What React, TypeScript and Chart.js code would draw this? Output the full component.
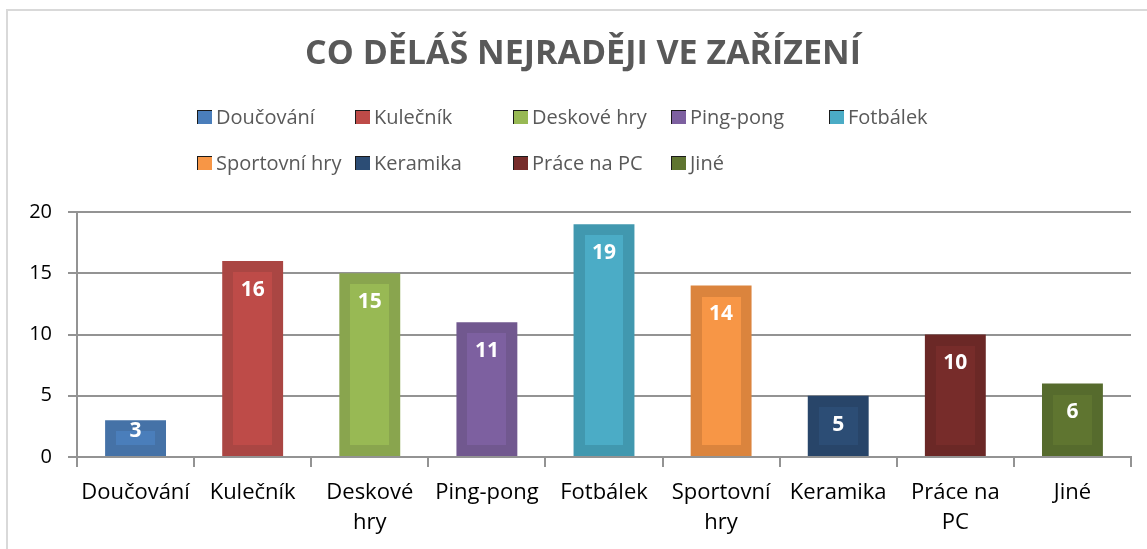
import React, { useEffect, useRef } from "react";
import { Chart, registerables } from "chart.js";

Chart.register(...registerables);

const TITLE = "CO DĚLÁŠ NEJRADĚJI VE ZAŘÍZENÍ";
const categories = ["Doučování", "Kulečník", "Deskové hry", "Ping-pong", "Fotbálek", "Sportovní hry", "Keramika", "Práce na PC", "Jiné"];
const axisLabels: (string | string[])[] = ["Doučování", "Kulečník", ["Deskové", "hry"], "Ping-pong", "Fotbálek", ["Sportovní", "hry"], "Keramika", ["Práce na", "PC"], "Jiné"];
const values = [3, 16, 15, 11, 19, 14, 5, 10, 6];
const fillColors = ["#4A7EBB", "#BE4B48", "#98B954", "#7D60A0", "#4BACC6", "#F79646", "#2C4D75", "#772C2A", "#5F7530"];
const edgeColors = ["#4572A7", "#AA4643", "#89A54E", "#71588F", "#4198AF", "#DB843D", "#284569", "#6B2826", "#566B2D"];
const yMin = 0;
const yMax = 20;
const yStep = 5;

const FONT = "'Open Sans', 'DejaVu Sans', sans-serif";
const EDGE = 11;

const decorPlugin = {
  id: "decor",
  beforeDraw(chart: any) {
    const { ctx, width, height } = chart;
    ctx.save();
    ctx.fillStyle = "#ffffff";
    ctx.fillRect(0, 0, width, height);
    ctx.strokeStyle = "#d9d9d9";
    ctx.lineWidth = 2;
    ctx.beginPath();
    ctx.moveTo(7, height);
    ctx.lineTo(7, 10);
    ctx.lineTo(width, 10);
    ctx.stroke();

    // title
    ctx.fillStyle = "#595959";
    ctx.font = `bold 34px ${FONT}`;
    ctx.textAlign = "center";
    ctx.textBaseline = "middle";
    ctx.fillText(TITLE, 583, 54);

    // legend
    ctx.font = `20px ${FONT}`;
    ctx.textAlign = "left";
    const perRow = 5;
    categories.forEach((c, i) => {
      const col = i % perRow;
      const row = Math.floor(i / perRow);
      const bx = 197 + col * 158;
      const cy = 117 + row * 46;
      ctx.fillStyle = fillColors[i];
      ctx.fillRect(bx, cy - 7, 15, 14);
      ctx.fillStyle = "#1a1a1a";
      ctx.fillRect(bx, cy - 7, 15, 1);
      ctx.fillRect(bx, cy - 7, 1, 14);
      ctx.fillStyle = "#595959";
      ctx.fillText(c, bx + 19, cy + 1);
    });
    ctx.restore();
  },
  afterDatasetsDraw(chart: any) {
    const { ctx } = chart;
    const meta = chart.getDatasetMeta(0);
    ctx.save();
    // inner lighter fill of each bar
    meta.data.forEach((bar: any, i: number) => {
      const left = Math.round(bar.x - bar.width / 2);
      const right = Math.round(bar.x + bar.width / 2);
      const top = Math.round(bar.y);
      const bottom = Math.round(bar.base);
      const w = right - left - 2 * EDGE;
      const h = bottom - top - 2 * EDGE;
      if (w > 0 && h > 0) {
        ctx.fillStyle = fillColors[i];
        ctx.fillRect(left + EDGE, top + EDGE, w, h);
      }
    });
    ctx.fillStyle = "#ffffff";
    ctx.font = `bold 21px ${FONT}`;
    ctx.textAlign = "center";
    ctx.textBaseline = "middle";
    meta.data.forEach((bar: any, i: number) => {
      const h = bar.base - bar.y;
      const off = Math.min(29, h - 25);
      ctx.fillText(String(values[i]), bar.x, bar.y + off);
    });
    ctx.restore();
  },
};

export default function App() {
  const ref = useRef<HTMLCanvasElement | null>(null);
  useEffect(() => {
    if (!ref.current) return;
    const chart = new Chart(ref.current, {
      type: "bar",
      data: {
        labels: axisLabels as any,
        datasets: [
          {
            data: values,
            backgroundColor: edgeColors,
            borderWidth: 0,
            categoryPercentage: 1,
            barPercentage: 0.52,
          },
        ],
      },
      options: {
        animation: false,
        responsive: false,
        maintainAspectRatio: false,
        layout: { padding: { top: 212, left: 0, right: 16, bottom: 0 } },
        plugins: {
          legend: { display: false },
          title: { display: false },
          tooltip: { enabled: false },
        },
        scales: {
          x: {
            offset: true,
            grid: {
              display: true,
              offset: true,
              drawOnChartArea: false,
              drawTicks: true,
              tickLength: 10,
              color: "#939393",
              lineWidth: 2,
            },
            border: { display: true, color: "#939393", width: 2 },
            ticks: {
              autoSkip: false,
              maxRotation: 0,
              minRotation: 0,
              padding: 10,
              color: "#000000",
              font: { family: FONT, size: 22, lineHeight: 1.4 },
            },
            afterFit(scale: any) {
              scale.height = 92;
            },
          },
          y: {
            min: yMin,
            max: yMax,
            ticks: {
              stepSize: yStep,
              padding: 16,
              color: "#000000",
              font: { family: FONT, size: 20 },
            },
            grid: {
              color: "#939393",
              lineWidth: 2,
              tickLength: 9,
              drawTicks: true,
            },
            border: { display: true, color: "#939393", width: 2 },
            afterFit(scale: any) {
              scale.width = 77;
            },
          },
        },
      },
      plugins: [decorPlugin],
    });
    return () => chart.destroy();
  }, []);
  return (
    <div style={{ position: "fixed", left: 0, top: 0, width: 1147, height: 549 }}>
      <canvas ref={ref} width={1147} height={549} style={{ display: "block" }} />
    </div>
  );
}
